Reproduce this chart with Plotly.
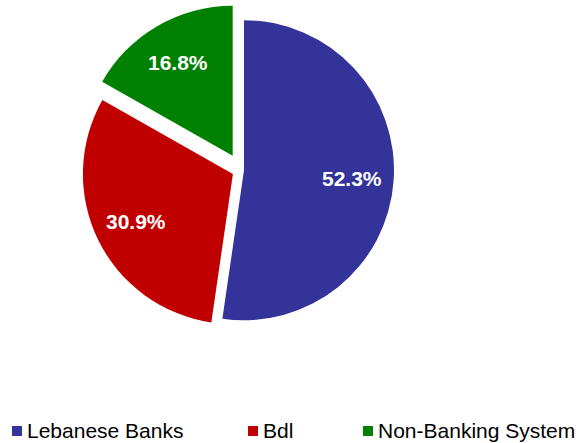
import math
import plotly.graph_objects as go

# Shares of holdings by sector (%)
labels = ["Lebanese Banks", "Bdl", "Non-Banking System"]
values = [52.3, 30.9, 16.8]
colors = ["#333399", "#C00000", "#008000"]
pulls = [0.02, 0.06, 0.11]

W, H = 581, 443
FONT = "Liberation Sans, Arial, sans-serif"

# Pie domain in pixels (square), converted to paper fractions
dom_x = (74.5, 407.5)
dom_y = (3.5, 336.5)

fig = go.Figure()
fig.add_trace(go.Pie(
    labels=labels,
    values=values,
    sort=False,
    direction="clockwise",
    rotation=0,
    pull=pulls,
    marker=dict(colors=colors, line=dict(width=0)),
    textinfo="none",
    hoverinfo="label+percent",
    showlegend=False,
    domain=dict(x=[dom_x[0] / W, dom_x[1] / W],
                y=[1 - dom_y[1] / H, 1 - dom_y[0] / H]),
))

# Value labels placed along each slice bisector, following the same
# geometry plotly uses for the pie (centre of domain, radius shrunk by max pull)
cx = (dom_x[0] + dom_x[1]) / 2
cy = (dom_y[0] + dom_y[1]) / 2
r = min(dom_x[1] - dom_x[0], dom_y[1] - dom_y[0]) / 2 / (1 + max(pulls))
total = sum(values)
cum = 0.0
for v, p in zip(values, pulls):
    mid = (cum + v / 2) / total * 2 * math.pi
    cum += v
    dx, dy = math.sin(mid), -math.cos(mid)
    dist = (p + 0.72) * r
    px, py = cx + dist * dx, cy + dist * dy
    fig.add_annotation(xref="paper", yref="paper",
                       x=px / W, y=1 - py / H,
                       xanchor="center", yanchor="middle",
                       text=f"<b>{v:.1f}%</b>", showarrow=False,
                       font=dict(family=FONT, size=21, color="white"))

# Legend row drawn as swatches + labels
sw_x = [12, 248, 363]
for lab, col, x0 in zip(labels, colors, sw_x):
    fig.add_shape(type="rect", xref="paper", yref="paper",
                  x0=x0 / W, x1=(x0 + 10) / W,
                  y0=1 - 436 / H, y1=1 - 426 / H,
                  fillcolor=col, line=dict(width=0))
    fig.add_annotation(xref="paper", yref="paper",
                       x=(x0 + 13) / W, y=1 - 430 / H,
                       xanchor="left", yanchor="middle",
                       text=lab, showarrow=False,
                       font=dict(family=FONT, size=21, color="black"))

fig.update_layout(
    width=W, height=H,
    margin=dict(l=0, r=0, t=0, b=0),
    paper_bgcolor="white",
    plot_bgcolor="white",
)

fig.write_html("out.html")
